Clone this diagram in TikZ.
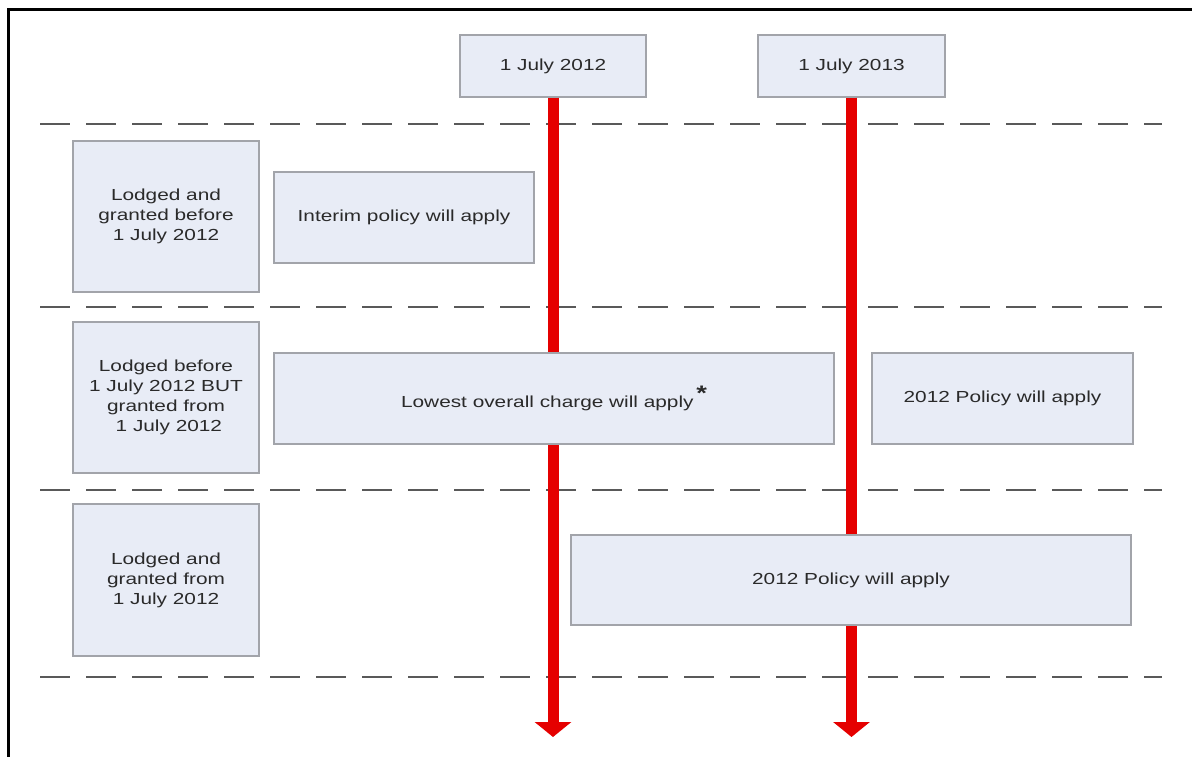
\documentclass[tikz,border=0pt]{standalone}
\usepackage{fontspec}
\setmainfont[FakeStretch=1.3]{Liberation Sans}
\usetikzlibrary{arrows.meta}
\definecolor{boxfill}{HTML}{E8ECF6}
\definecolor{boxline}{HTML}{A2A4AA}
\definecolor{datered}{HTML}{E50000}
\definecolor{textgrey}{HTML}{2A2A2A}
\begin{document}
\begin{tikzpicture}[x=1pt,y=-1pt,
		box/.style={draw=boxline,fill=boxfill,line width=1.2pt,text=textgrey,align=center,inner sep=0pt,font=\fontsize{16}{20}\selectfont},
		timeline/.style={datered,line width=11pt,-{Triangle[width=36pt,length=15pt]}},
		rowline/.style={dash pattern=on 30pt off 16pt,line width=2.4pt,draw=black!65}]
		\useasboundingbox (0,0) rectangle (1192,757);
		\draw [line width=3pt] (8,757) -- (8,10) -- (1192,10);
		% row separators
		\foreach \y in {124,307,490,677}
			\draw [rowline] (40,\y) -- (1162,\y);
		% dates and their lines
		\node [box,minimum width=186pt,minimum height=62pt] (d12) at (553,66) {1 July 2012};
		\node [box,minimum width=187pt,minimum height=62pt] (d13) at (851.5,66) {1 July 2013};
		\coordinate (end12) at (553,737);
		\coordinate (end13) at (851.5,737);
		\draw [timeline] (d12.south) -- (end12);
		\draw [timeline] (d13.south) -- (end13);
		% cases
		\node [box,minimum width=186pt,minimum height=151pt] (case1) at (166,216.5) {Lodged and\\granted before\\1 July 2012};
		\node [box,minimum width=186pt,minimum height=151pt] (case2) at (166,397.5) {Lodged before\\1 July 2012 BUT\\granted from\\\ 1 July 2012};
		\node [box,minimum width=186pt,minimum height=152pt] (case3) at (166,580) {Lodged and\\granted from\\1 July 2012};
		% outcomes
		\node [box,minimum width=260pt,minimum height=91pt] (interim) at (404,217.5) {Interim policy will apply};
		\node [box,minimum width=560pt,minimum height=91pt] (lowest) at (554,398.5) {Lowest overall charge will apply\,\raisebox{7pt}{\fontsize{21}{21}\selectfont\bfseries *}};
		\node [box,minimum width=261pt,minimum height=91pt] (pol2) at (1002.5,398.5) {2012 Policy will apply};
		\node [box,minimum width=560pt,minimum height=90pt] (pol3) at (851,580) {2012 Policy will apply};
\end{tikzpicture}
\end{document}
